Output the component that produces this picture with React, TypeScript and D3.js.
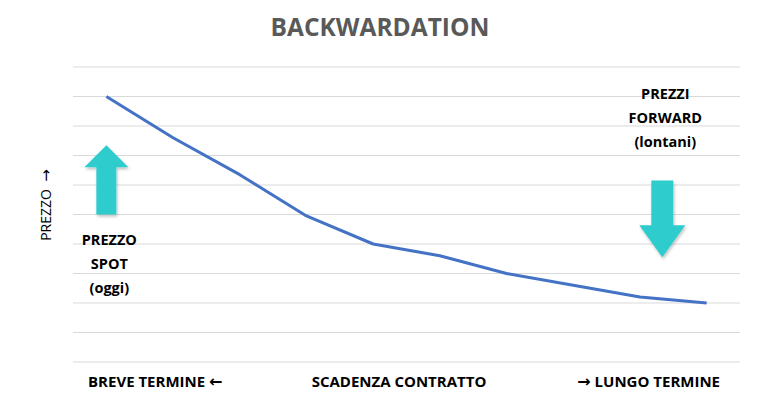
import React from 'react';
import * as d3 from 'd3';

const scadenze = ['1', '2', '3', '4', '5', '6', '7', '8', '9', '10'];
const prezzi = [9.0, 7.6, 6.35, 4.95, 4.0, 3.6, 3.0, 2.6, 2.2, 2.0];
const gridTicks = [0, 1, 2, 3, 4, 5, 6, 7, 8, 9, 10];

const W = 759;
const H = 394;
const margin = { top: 67, right: 19, bottom: 32, left: 73 };

const App: React.FC = () => {
  const innerW = W - margin.left - margin.right;
  const innerH = H - margin.top - margin.bottom;

  const x = d3.scalePoint<string>().domain(scadenze).range([0, innerW]).padding(0.5);
  const y = d3.scaleLinear().domain([0, 10]).range([innerH, 0]);

  const line = d3
    .line<number>()
    .x((_, i) => x(scadenze[i]) as number)
    .y((d) => y(d));

  const arrowColor = '#2fcccc';
  const font = '"Open Sans", sans-serif';
  const arrowFont = '"DejaVu Sans", sans-serif';

  // freccia verso l'alto (prezzo spot)
  const ux = x(scadenze[0]) as number;
  const upTop = y(7.35);
  const upBase = y(5.0);
  const upArrow = [
    [ux, upTop],
    [ux + 22, upTop + 22],
    [ux + 10, upTop + 22],
    [ux + 10, upBase],
    [ux - 10, upBase],
    [ux - 10, upTop + 22],
    [ux - 22, upTop + 22],
  ];

  // freccia verso il basso (prezzi forward)
  const dx = ((x(scadenze[8]) as number) + (x(scadenze[9]) as number)) / 2 - 11;
  const downTop = y(6.15);
  const downTip = y(3.55);
  const downArrow = [
    [dx - 11, downTop],
    [dx + 11, downTop],
    [dx + 11, downTip - 32],
    [dx + 23, downTip - 32],
    [dx, downTip],
    [dx - 23, downTip - 32],
    [dx - 11, downTip - 32],
  ];

  const poly = (pts: number[][]) => pts.map((p) => p.join(',')).join(' ');

  return (
    <svg
      width={W}
      height={H}
      style={{ position: 'absolute', left: 0, top: 0, background: '#fff' }}
      fontFamily={font}
    >
      <defs>
        <filter id="ombra" x="-30%" y="-30%" width="160%" height="160%">
          <feDropShadow dx="1" dy="2" stdDeviation="1.5" floodColor="#000" floodOpacity="0.25" />
        </filter>
      </defs>

      <text x={380} y={36} textAnchor="middle" fontSize={24.5} fontWeight={700} fill="#595959">
        BACKWARDATION
      </text>

      <g transform={`translate(${margin.left},${margin.top})`}>
        {gridTicks.map((t) => (
          <line key={t} x1={0} x2={innerW} y1={y(t)} y2={y(t)} stroke="#d9d9d9" strokeWidth={1} />
        ))}

        <path d={line(prezzi) || ''} fill="none" stroke="#4472c4" strokeWidth={3} strokeLinejoin="round" />

        <polygon points={poly(upArrow)} fill={arrowColor} filter="url(#ombra)" />
        <polygon points={poly(downArrow)} fill={arrowColor} filter="url(#ombra)" />

        <g fontSize={14.5} fontWeight={700} fill="#000" textAnchor="middle">
          <text x={ux + 3} y={y(3.95)}>PREZZO</text>
          <text x={ux + 3} y={y(3.15)}>SPOT</text>
          <text x={ux + 3} y={y(2.35)}>(oggi)</text>
        </g>
        <g fontSize={14.5} fontWeight={700} fill="#000" textAnchor="middle">
          <text x={dx + 3} y={y(8.9)}>PREZZI</text>
          <text x={dx + 3} y={y(8.1)}>FORWARD</text>
          <text x={dx + 3} y={y(7.3)}>(lontani)</text>
        </g>
      </g>

      <text
        transform={`translate(51,205) rotate(-90)`}
        textAnchor="middle"
        fontSize={14}
        fill="#000"
      >
        PREZZO{'\u00a0\u00a0'}
        <tspan fontFamily={arrowFont} fontSize={15}>→</tspan>
      </text>

      <g fontSize={15} fontWeight={700} fill="#000">
        <text x={88} y={387}>
          BREVE TERMINE <tspan fontFamily={arrowFont} fontWeight={700} fontSize={16}>←</tspan>
        </text>
        <text x={399} y={387} textAnchor="middle">SCADENZA CONTRATTO</text>
        <text x={720} y={387} textAnchor="end">
          <tspan fontFamily={arrowFont} fontWeight={700} fontSize={16}>→</tspan> LUNGO TERMINE
        </text>
      </g>
    </svg>
  );
};

export default App;
